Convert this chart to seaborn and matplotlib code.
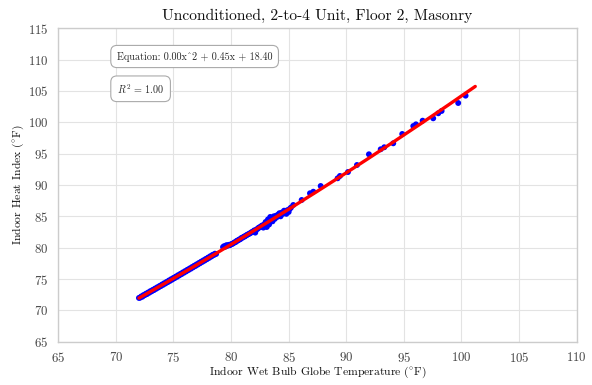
import numpy as np
import pandas as pd
import matplotlib
matplotlib.use("Agg")
import matplotlib.pyplot as plt
import seaborn as sns

title = "Unconditioned, 2-to-4 Unit, Floor 2, Masonry"
xlabel = r"Indoor Wet Bulb Globe Temperature ($^{\circ}$F)"
ylabel = r"Indoor Heat Index ($^{\circ}$F)"
eq_text = "Equation: 0.00x^2 + 0.45x + 18.40"
r2_text = "$R^2$ = 1.00"

# quadratic fit coefficients (a x^2 + b x + c)
fit_a = 0.00408
fit_b = 0.45
fit_c = 18.40
fit_xmin = 72.0
fit_xmax = 101.2

wbgt = [
    72.0, 72.1, 72.2, 72.3, 72.4, 72.5, 72.6, 72.7, 72.8, 72.9,
    73.0, 73.1, 73.2, 73.3, 73.4, 73.5, 73.6, 73.7, 73.8, 73.9,
    74.0, 74.1, 74.2, 74.3, 74.4, 74.5, 74.6, 74.7, 74.8, 74.9,
    75.0, 75.1, 75.2, 75.3, 75.4, 75.5, 75.6, 75.7, 75.8, 75.9,
    76.0, 76.1, 76.2, 76.3, 76.4, 76.5, 76.6, 76.7, 76.8, 76.9,
    77.0, 77.1, 77.2, 77.3, 77.4, 77.5, 77.6, 77.7, 77.8, 77.9,
    78.0, 78.1, 78.2, 78.3, 78.4, 78.5, 78.6, 78.7,
    79.3, 79.4, 79.5, 79.6, 79.7, 79.8, 79.9, 80.0, 80.1, 80.2,
    80.3, 80.4, 80.5, 80.6, 80.7, 80.8, 80.9, 81.0, 81.1, 81.2,
    81.3, 81.4, 81.5, 81.6, 81.7, 81.8, 81.9, 82.0, 82.1, 82.2,
    82.3, 82.4, 82.5, 82.6, 82.7, 82.8, 82.9, 83.0, 83.0, 83.1,
    83.1, 83.2, 83.3, 83.3, 83.4, 83.5, 83.6, 83.7, 83.8, 83.9,
    84.0, 84.1, 84.2, 84.3, 84.4, 84.5, 84.6, 84.7, 84.8, 84.9,
    85.0, 85.1, 85.2,
    85.40, 86.13, 86.85, 87.14, 87.78, 89.25, 89.45, 90.15, 90.93, 91.97,
    92.99, 93.30, 94.08, 94.86, 95.82, 96.05, 96.63, 97.55, 97.99, 98.28,
    99.72, 100.36,
]

heat_index = [
    71.98, 72.02, 72.22, 72.18, 72.44, 72.42, 72.65, 72.60, 72.85, 72.82,
    73.07, 73.03, 73.27, 73.23, 73.48, 73.45, 73.69, 73.66, 73.90, 73.87,
    74.12, 74.08, 74.33, 74.29, 74.54, 74.50, 74.76, 74.71, 74.97, 74.92,
    75.18, 75.14, 75.39, 75.35, 75.61, 75.57, 75.82, 75.78, 76.04, 76.00,
    76.25, 76.21, 76.47, 76.43, 76.68, 76.64, 76.90, 76.86, 77.12, 77.07,
    77.33, 77.29, 77.55, 77.51, 77.77, 77.73, 77.98, 77.94, 78.20, 78.16,
    78.42, 78.38, 78.64, 78.60, 78.86, 78.82, 79.04, 79.00,
    80.10, 80.25, 80.15, 80.40, 80.30, 80.45, 80.40, 80.55, 80.60, 80.70,
    80.85, 80.90, 81.10, 81.15, 81.30, 81.35, 81.55, 81.60, 81.75, 81.80,
    81.95, 82.05, 82.15, 82.25, 82.35, 82.50, 82.55, 82.75, 82.40, 82.90,
    83.00, 83.20, 83.25, 83.40, 83.55, 83.20, 83.75, 83.40, 84.10, 84.00,
    83.30, 84.50, 84.30, 83.70, 84.90, 84.50, 84.20, 85.00, 84.60, 85.10,
    84.90, 85.30, 85.50, 85.00, 85.60, 85.40, 85.90, 85.60, 85.40, 86.00,
    85.70, 86.20, 86.40,
    86.81, 87.61, 88.68, 88.93, 89.84, 91.07, 91.44, 92.07, 93.19, 94.90,
    95.70, 96.02, 96.65, 98.14, 99.41, 99.68, 100.26, 100.64, 101.44, 101.81,
    103.08, 104.25,
]

x_ticks = [65, 70, 75, 80, 85, 90, 95, 100, 105, 110]
y_ticks = [65, 70, 75, 80, 85, 90, 95, 100, 105, 110, 115]

sns.set_theme(style="whitegrid")
plt.rcParams["font.family"] = ["cmr10", "DejaVu Serif"]
plt.rcParams["mathtext.fontset"] = "cm"
plt.rcParams["axes.formatter.use_mathtext"] = True

df = pd.DataFrame({"wbgt": wbgt, "hi": heat_index})
xf = np.linspace(fit_xmin, fit_xmax, 200)
fit_df = pd.DataFrame({"x": xf, "y": fit_a * xf**2 + fit_b * xf + fit_c})

fig, ax = plt.subplots(figsize=(5.92, 3.85), dpi=100)
fig.subplots_adjust(left=0.0985, right=0.974, top=0.9265, bottom=0.1125)

sns.scatterplot(data=df, x="wbgt", y="hi", ax=ax, color="#0000ff", s=18,
                edgecolor="none", zorder=3)
sns.lineplot(data=fit_df, x="x", y="y", ax=ax, color="#ff0000", lw=2.4, zorder=4)

ax.set_xlim(65, 110)
ax.set_ylim(65, 115)
ax.set_xticks(x_ticks)
ax.set_yticks(y_ticks)
ax.tick_params(labelsize=9.2, colors="#444444", pad=1)
ax.set_title(title, fontsize=11.2, color="#111111", pad=6)
ax.set_xlabel(xlabel, fontsize=8.4, color="#111111", va="center")
ax.set_ylabel(ylabel, fontsize=8.4, color="#111111", va="center")
ax.xaxis.set_label_coords(0.5, -0.098)
ax.yaxis.set_label_coords(-0.078, 0.5)
ax.grid(color="#e3e3e3", lw=0.8)
for s in ax.spines.values():
    s.set_color("#cccccc")
    s.set_linewidth(1.0)

box = dict(boxstyle="round,pad=0.6", facecolor="white", edgecolor="#aaaaaa", lw=0.8)
ax.text(0.113, 0.91, eq_text, transform=ax.transAxes, fontsize=7.3,
        va="center", ha="left", bbox=box)
ax.text(0.113, 0.807, r2_text, transform=ax.transAxes, fontsize=7.3,
        va="center", ha="left", bbox=box)

fig.savefig("out.png", dpi=100)
